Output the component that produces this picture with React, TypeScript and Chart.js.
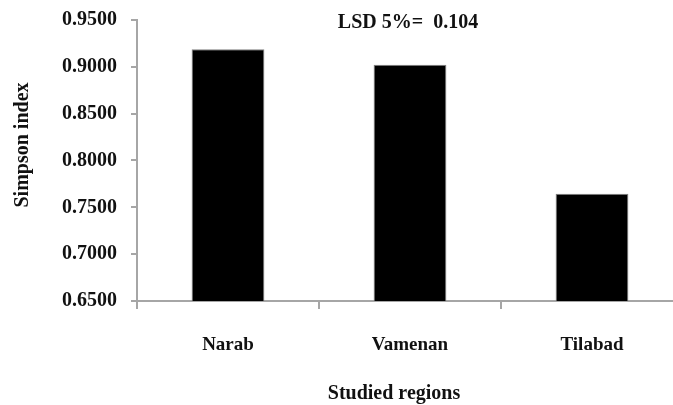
import React, { useEffect, useRef } from "react";
import { Chart, registerables } from "chart.js";

Chart.register(...registerables);

const categories: string[] = ["Narab", "Vamenan", "Tilabad"];
const simpsonValues: number[] = [0.9187, 0.9023, 0.7646];
const yMin = 0.65;
const yMax = 0.95;
const yStep = 0.05;
const xTitleText = "Studied regions";
const yTitleText = "Simpson index";
const annotationText = "LSD 5%=  0.104";

const FONT = "'Liberation Serif', 'Times New Roman', serif";
const TEXT = "#111111";
const AXIS = "#a6a6a6";

const textPlugin = {
  id: "customTexts",
  afterDraw(chart: any) {
    const ctx = chart.ctx as CanvasRenderingContext2D;
    ctx.save();
    ctx.fillStyle = TEXT;
    ctx.font = `bold 20px ${FONT}`;
    ctx.textAlign = "center";
    ctx.textBaseline = "middle";
    ctx.fillText(annotationText, 408, 23);
    ctx.fillText(xTitleText, 394, 394);
    ctx.translate(23, 145);
    ctx.rotate(-Math.PI / 2);
    ctx.fillText(yTitleText, 0, 0);
    ctx.restore();
  },
};

export default function App() {
  const ref = useRef<HTMLCanvasElement | null>(null);
  useEffect(() => {
    if (!ref.current) return;
    const chart = new Chart(ref.current, {
      type: "bar",
      data: {
        labels: categories,
        datasets: [
          {
            data: simpsonValues,
            backgroundColor: "#000000",
            borderColor: "#808080",
            borderWidth: 1,
            barPercentage: 0.4,
            categoryPercentage: 1,
          },
        ],
      },
      options: {
        responsive: false,
        animation: false,
        layout: { padding: { top: 20, right: 17, left: 0, bottom: 0 } },
        plugins: {
          legend: { display: false },
          tooltip: { enabled: false },
        },
        scales: {
          x: {
            offset: true,
            border: { display: true, color: AXIS, width: 2 },
            grid: {
              display: true,
              offset: true,
              drawOnChartArea: false,
              drawTicks: true,
              tickLength: 8,
              color: AXIS,
              lineWidth: 2,
            },
            ticks: {
              color: TEXT,
              padding: 25,
              font: { family: FONT, size: 19, weight: "bold" },
            },
            afterFit: (s: any) => {
              s.height = 104;
              s.paddingLeft = 0;
              s.paddingRight = 0;
            },
          },
          y: {
            min: yMin,
            max: yMax,
            border: { display: true, color: AXIS, width: 2 },
            grid: {
              display: true,
              drawOnChartArea: false,
              drawTicks: true,
              tickLength: 6,
              color: AXIS,
              lineWidth: 2,
            },
            ticks: {
              stepSize: yStep,
              color: TEXT,
              padding: 14,
              font: { family: FONT, size: 20, weight: "bold" },
              callback: (v: any) => Number(v).toFixed(4),
            },
            afterFit: (s: any) => {
              s.width = 137;
              s.paddingTop = 0;
              s.paddingBottom = 0;
            },
          },
        },
      },
      plugins: [textPlugin],
    });
    return () => chart.destroy();
  }, []);

  return (
    <div
      style={{
        position: "fixed",
        left: 0,
        top: 0,
        width: 673,
        height: 405,
        overflow: "hidden",
        background: "#ffffff",
      }}
    >
      <canvas ref={ref} width={700} height={405} style={{ display: "block" }} />
    </div>
  );
}
